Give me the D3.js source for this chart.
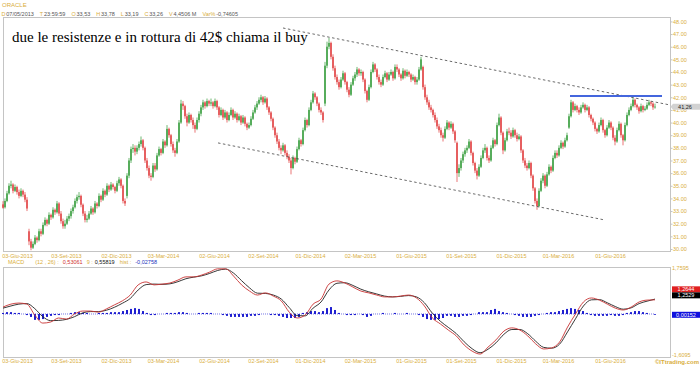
<!DOCTYPE html>
<html><head><meta charset="utf-8">
<script src="https://cdn.jsdelivr.net/npm/d3@7"></script>
<style>body{margin:0;background:#fff}svg{display:block}text{font-family:"Liberation Sans",Arial,sans-serif}</style>
</head><body><svg id="c" width="700" height="365"></svg>
<script>
// ---------- DATA ----------
const symbol = "ORACLE";
const infoFields = [["D","07/05/2013"],["T","23:59:59"],["O","33,53"],["H","33,78"],["L","33,19"],["C","33,26"],["V","4,4506 M"],["Var%","-0,74605"]];
const note = "due le resistenze e in rottura di 42$ chiama il buy";
const xTickLabels = ["03-Giu-2013","03-Set-2013","02-Dic-2013","03-Mar-2014","02-Giu-2014","02-Set-2014","01-Dic-2014","02-Mar-2015","01-Giu-2015","01-Set-2015","01-Dic-2015","01-Mar-2016","01-Giu-2016"];
const xTickIdx = [7,31.5,56.5,80,105.5,130,153.5,178.5,204,229,254,277.5,303.5];
const yTicks = [30,31,32,33,34,35,36,37,38,39,40,41,42,43,44,45,46,47,48];
const lastPrice = 41.26;
// bars: [open, high, low, close]
const ohlc = [
[33.53,33.78,33.19,33.26],[33.3,34.0,33.2,33.8],[33.8,34.6,33.7,34.4],[34.4,35.2,34.3,35.0],[35.0,35.4,34.8,35.1],
[35.1,35.2,34.4,34.6],[34.6,35.1,34.5,34.9],[34.9,35.0,34.3,34.5],[34.5,34.7,34.0,34.2],[34.2,34.8,34.1,34.6],
[34.6,34.7,34.1,34.3],[34.3,34.5,33.7,33.9],[33.9,34.1,33.0,33.2],[31.4,31.6,30.3,30.6],[30.6,30.8,29.9,30.1],
[30.1,30.6,30.0,30.4],[30.4,31.1,30.3,30.9],[30.9,31.0,30.5,30.7],[30.7,31.6,30.6,31.4],[31.4,31.6,31.0,31.2],
[31.2,32.1,31.1,31.9],[31.9,32.5,31.8,32.3],[32.3,32.4,31.8,32.0],[32.0,32.9,31.9,32.7],[32.7,32.8,32.3,32.5],
[32.5,33.3,32.4,33.1],[33.1,33.2,32.7,32.9],[32.9,33.8,32.8,33.6],[33.6,33.7,32.6,32.8],[32.8,33.0,32.0,32.2],
[32.2,32.4,31.6,31.8],[31.8,32.3,31.6,32.0],[32.0,32.6,31.9,32.4],[32.4,32.8,32.2,32.6],[32.6,33.2,32.4,33.0],
[33.0,33.5,32.8,33.3],[33.3,34.0,33.2,33.8],[33.8,34.3,33.6,34.1],[34.1,34.5,33.9,34.2],[34.2,34.3,33.3,33.5],
[33.5,33.6,32.6,32.8],[32.8,33.0,32.1,32.3],[32.3,32.7,32.1,32.4],[32.4,33.0,32.3,32.8],[32.8,33.4,32.7,33.2],
[33.2,33.3,32.7,32.9],[32.9,33.8,32.8,33.6],[33.6,33.7,33.2,33.4],[33.4,34.4,33.3,34.2],[34.2,34.3,33.7,33.9],
[33.9,34.8,33.8,34.6],[34.6,34.7,34.1,34.3],[34.3,35.2,34.2,35.0],[35.0,35.1,34.5,34.7],[34.7,35.3,34.6,35.1],
[35.1,35.2,34.7,34.9],[34.9,35.0,34.4,34.6],[34.6,35.4,34.5,35.2],[35.2,35.7,35.0,35.5],[35.5,35.6,34.8,35.0],
[35.0,35.1,33.6,33.8],[33.8,34.0,33.4,33.6],[34.2,36.0,34.0,35.8],[35.8,37.2,35.6,37.0],[37.0,38.1,36.8,37.9],
[37.9,38.3,37.6,38.0],[38.0,38.2,37.4,37.7],[37.7,38.2,37.5,38.0],[38.0,38.5,37.8,38.3],[38.3,38.9,38.1,38.6],
[38.6,38.7,37.8,38.0],[38.0,38.1,36.8,37.0],[37.0,37.2,36.2,36.4],[36.4,36.6,35.6,35.8],[35.8,36.0,35.4,35.7],
[35.7,36.8,35.6,36.6],[36.6,36.8,36.1,36.3],[36.3,37.6,36.2,37.4],[37.4,38.1,37.3,37.9],[37.9,38.0,37.4,37.6],
[37.6,38.7,37.5,38.5],[38.5,38.6,38.0,38.2],[38.2,39.8,38.1,39.5],[39.5,39.6,38.8,39.0],[39.0,39.1,38.1,38.3],
[38.3,38.5,37.6,37.8],[37.8,38.0,37.3,37.6],[37.6,38.7,37.5,38.5],[38.5,40.2,38.4,40.0],[40.0,41.8,39.9,41.5],
[41.5,41.7,41.0,41.3],[41.3,41.4,40.3,40.5],[40.5,40.7,39.7,40.0],[40.0,40.8,39.9,40.6],[40.6,40.7,40.0,40.2],
[40.2,40.4,39.5,39.8],[39.8,40.0,39.2,39.5],[39.5,40.4,39.4,40.2],[40.2,40.9,40.0,40.7],[40.7,41.4,40.5,41.2],
[41.2,41.8,41.0,41.6],[41.6,41.7,41.1,41.3],[41.3,41.9,41.2,41.7],[41.7,41.8,41.3,41.5],[41.5,41.9,41.3,41.6],
[41.6,41.7,41.1,41.3],[41.3,41.9,41.2,41.7],[41.7,41.8,41.0,41.2],[41.2,41.3,40.4,40.6],[40.6,41.2,40.5,41.0],
[41.0,41.1,40.2,40.4],[40.4,41.0,40.3,40.8],[40.8,40.9,40.0,40.2],[40.2,40.8,40.1,40.6],[40.6,41.2,40.5,41.0],
[41.0,41.1,40.2,40.4],[40.4,40.9,40.3,40.7],[40.7,40.8,40.0,40.2],[40.2,40.7,40.1,40.5],[40.5,40.6,39.8,40.0],
[40.0,40.6,39.9,40.4],[40.4,40.5,39.7,39.9],[39.9,40.0,39.4,39.6],[39.6,40.0,39.5,39.8],[39.8,40.5,39.7,40.3],
[40.3,41.0,40.2,40.8],[40.8,41.4,40.7,41.2],[41.2,41.7,41.0,41.5],[41.5,42.0,41.4,41.8],[41.8,42.2,41.6,42.0],
[42.0,42.1,41.4,41.6],[41.6,42.1,41.5,41.9],[41.9,42.0,41.0,41.2],[41.2,41.3,40.6,40.8],[40.8,40.9,40.1,40.3],
[40.3,40.4,39.4,39.6],[39.6,39.7,38.8,39.0],[39.0,39.2,38.3,38.5],[38.5,38.7,37.8,38.0],[38.0,38.2,37.5,37.8],
[37.8,38.4,37.7,38.2],[38.2,38.3,37.4,37.6],[37.6,37.8,37.1,37.3],[37.3,37.5,36.8,37.0],[37.0,37.2,35.9,36.4],
[36.4,37.4,36.3,37.2],[37.2,37.3,36.7,36.9],[36.9,38.1,36.8,37.9],[37.9,38.8,37.8,38.6],[38.6,38.7,38.1,38.3],
[38.3,39.6,38.2,39.4],[39.4,40.4,39.3,40.2],[40.2,40.3,39.6,39.8],[39.8,41.2,39.7,41.0],[41.0,41.8,40.9,41.6],
[41.6,42.5,41.5,42.3],[42.3,42.4,41.8,42.0],[42.0,42.1,41.3,41.5],[41.5,41.6,40.8,41.0],[41.0,41.2,40.6,40.8],
[40.8,40.9,40.0,40.2],[41.5,44.8,41.3,44.5],[44.5,46.4,44.3,46.0],[46.0,46.7,45.8,46.3],[46.3,46.4,45.0,45.2],
[45.2,45.4,44.1,44.3],[44.3,44.5,43.4,43.6],[43.6,43.8,43.0,43.2],[43.2,43.4,42.6,42.8],[42.8,43.6,42.7,43.4],
[43.4,44.1,43.3,43.9],[43.9,44.0,43.0,43.2],[43.2,43.3,42.4,42.6],[42.6,42.8,42.0,42.2],[42.2,43.2,42.1,43.0],
[43.0,43.7,42.9,43.5],[43.5,44.0,43.3,43.8],[43.8,44.4,43.6,44.2],[44.2,44.3,43.7,43.9],[43.9,44.2,43.7,44.0],
[44.0,44.1,43.2,43.4],[43.4,43.5,42.3,42.5],[42.5,42.6,41.6,41.8],[41.8,43.0,41.7,42.8],[42.8,44.2,42.7,44.0],
[44.0,44.8,43.9,44.6],[44.6,44.7,44.0,44.2],[44.2,44.3,43.4,43.6],[43.6,43.8,43.0,43.2],[43.2,43.4,42.8,43.0],
[43.0,43.8,42.9,43.6],[43.6,44.1,43.5,43.9],[43.9,44.0,43.2,43.4],[43.4,44.0,43.3,43.8],[43.8,44.2,43.7,44.0],
[44.0,44.1,43.3,43.5],[43.5,44.6,43.4,44.4],[44.4,44.6,44.0,44.2],[44.2,44.3,43.6,43.8],[43.8,43.9,43.3,43.5],
[43.5,44.3,43.4,44.1],[44.1,44.2,43.5,43.7],[43.7,44.2,43.6,44.0],[44.0,44.1,43.6,43.8],[43.8,43.9,43.2,43.4],
[43.4,43.8,43.3,43.6],[43.6,43.7,43.0,43.2],[43.2,43.6,43.0,43.4],[43.4,44.4,43.3,44.2],[44.2,45.2,44.1,45.0],
[44.4,44.5,42.6,42.8],[42.8,43.0,41.8,42.0],[42.0,42.2,41.4,41.6],[41.6,41.8,41.0,41.2],[41.2,41.4,40.8,41.0],
[41.0,41.1,40.4,40.6],[40.6,40.8,40.0,40.2],[40.2,40.4,39.5,39.7],[39.7,39.9,39.2,39.4],[39.4,39.6,38.8,39.0],
[39.0,39.2,38.5,38.8],[38.8,39.7,38.7,39.5],[39.5,40.2,39.4,40.0],[40.0,40.1,39.4,39.6],[39.6,40.1,39.5,39.9],
[39.9,40.0,39.1,39.3],[39.3,39.4,38.4,38.6],[38.4,38.5,35.3,36.0],[36.0,36.7,35.7,36.4],[36.4,37.2,36.2,37.0],
[37.0,37.7,36.8,37.5],[37.5,38.0,37.3,37.8],[37.8,38.2,37.6,38.0],[38.0,38.7,37.9,38.5],[38.5,38.6,37.4,37.6],
[37.6,37.7,36.6,36.8],[36.8,36.9,36.0,36.2],[36.2,36.4,35.5,35.8],[35.8,36.7,35.7,36.5],[36.5,37.4,36.4,37.2],
[37.2,38.0,37.1,37.8],[37.8,38.3,37.6,38.0],[38.0,38.1,37.0,37.2],[37.2,37.4,36.8,37.0],[37.0,38.2,36.9,38.0],
[38.0,38.8,37.9,38.6],[38.6,38.7,38.1,38.3],[38.3,40.0,38.2,39.8],[39.8,40.7,39.7,40.4],[40.4,40.5,39.0,39.2],
[39.2,39.3,37.5,37.8],[37.8,38.8,37.7,38.6],[38.6,39.5,38.5,39.3],[39.3,39.6,39.0,39.2],[39.2,39.4,38.7,38.9],
[38.9,39.6,38.8,39.4],[39.4,39.5,38.8,39.0],[39.0,39.2,38.5,38.7],[38.7,39.1,38.6,38.9],[38.9,39.0,37.6,37.8],
[37.8,37.9,36.8,37.0],[37.0,37.2,36.4,36.6],[36.6,36.8,36.2,36.4],[36.4,37.0,36.3,36.8],[36.8,36.9,35.6,35.8],
[35.8,35.9,34.6,34.8],[34.8,34.9,33.6,33.8],[33.8,34.0,33.1,33.4],[33.4,34.8,33.3,34.6],[34.6,35.6,34.5,35.4],
[35.4,36.0,35.2,35.8],[35.8,35.9,34.8,35.0],[35.0,36.1,34.9,35.9],[35.9,36.7,35.8,36.5],[36.5,36.6,36.0,36.2],
[36.2,37.4,36.1,37.2],[37.2,37.8,37.1,37.6],[37.6,37.8,37.2,37.4],[37.4,38.2,37.3,38.0],[38.0,38.6,37.9,38.4],
[38.4,38.5,37.9,38.1],[38.1,38.8,38.0,38.6],[38.6,39.2,38.5,39.0],[39.6,40.7,39.5,40.5],[40.5,41.8,40.4,41.6],
[41.6,41.7,40.8,41.0],[41.0,41.5,40.9,41.3],[41.3,41.4,40.8,41.0],[41.0,41.2,40.6,40.8],[40.8,41.4,40.7,41.2],
[41.2,41.6,41.1,41.4],[41.4,41.5,40.8,41.0],[41.0,41.4,40.9,41.2],[41.2,41.3,40.4,40.6],[40.6,40.7,40.1,40.3],
[40.3,40.4,39.8,40.0],[40.0,40.1,39.3,39.5],[39.5,39.6,39.1,39.3],[39.3,40.0,39.2,39.8],[39.8,40.4,39.7,40.2],
[40.2,40.3,39.2,39.4],[39.4,39.5,38.8,39.0],[39.0,39.8,38.9,39.6],[39.6,40.2,39.5,40.0],[40.0,40.1,39.4,39.6],
[39.6,39.7,38.6,38.8],[38.8,39.0,38.2,38.5],[38.5,39.6,38.4,39.4],[39.4,40.1,39.3,39.9],[39.9,40.0,38.8,39.0],
[39.0,39.1,38.2,38.6],[38.6,40.0,38.5,39.8],[39.8,40.8,39.7,40.6],[40.6,41.2,40.5,41.0],[41.0,41.5,40.9,41.3],
[41.3,42.0,41.2,41.8],[41.8,41.9,41.2,41.4],[41.4,41.5,41.0,41.2],[41.2,41.3,40.7,40.9],[40.9,41.5,40.8,41.3],
[41.3,41.4,40.8,41.0],[41.0,41.3,40.9,41.1],[41.1,41.6,41.0,41.4],[41.4,41.8,41.3,41.6],[41.6,41.7,41.3,41.5],
[41.5,41.6,41.0,41.2],[41.2,41.5,41.1,41.26]
];
// trend lines drawn on the chart: [barIndex, price]
const upperTrend = [[140,47.48],[333.5,41.39]];
const lowerTrend = [[107.5,38.39],[301,32.29]];
const resistance = [[283.5,42.1],[329.5,42.1]];
// MACD panel
const macdParams = "(12 , 26) :";
const macdInfo = {macd:"0,53061", sigLabel:"9 :", signal:"0,55819", hist:"-0,02758"};
const macdAxis = {top:"1,7595", bottom:"-1,6095"};
const macdBoxes = {macd:"1,2644", signal:"1,2529", hist:"0,00152"};
const macdLine = [0.26,0.37,0.41,0.37,-0.04,-0.34,-0.30,-0.15,-0.19,0.00,
0.11,0.11,0.07,0.19,0.34,0.49,0.71,1.09,1.20,1.09,
1.12,1.16,1.27,1.39,1.39,1.46,1.57,1.69,1.69,1.42,
1.09,0.86,0.71,0.79,0.67,0.49,0.07,-0.15,-0.04,0.37,
0.56,1.12,1.24,1.16,1.01,0.86,0.79,0.71,0.64,0.64,
0.67,0.71,0.60,0.30,-0.15,-0.37,-0.60,-0.82,-1.16,-1.39,
-1.50,-1.24,-0.97,-0.64,-0.52,-0.60,-0.82,-1.12,-1.31,-1.27,
-1.05,-0.49,0.00,0.45,0.60,0.52,0.37,0.22,0.15,0.26,
0.45,0.52,0.53];
const signalLine = [0.22,0.30,0.37,0.39,0.20,-0.10,-0.25,-0.24,-0.20,-0.10,
0.04,0.09,0.09,0.14,0.25,0.40,0.58,0.90,1.10,1.12,
1.11,1.13,1.21,1.32,1.38,1.43,1.52,1.63,1.68,1.53,
1.25,0.98,0.78,0.77,0.71,0.56,0.24,-0.06,-0.07,0.22,
0.45,0.90,1.15,1.17,1.07,0.93,0.83,0.75,0.67,0.64,
0.66,0.69,0.64,0.42,0.03,-0.27,-0.50,-0.73,-1.04,-1.30,
-1.45,-1.32,-1.08,-0.76,-0.58,-0.58,-0.74,-1.02,-1.25,-1.28,
-1.13,-0.67,-0.18,0.30,0.53,0.54,0.42,0.28,0.18,0.23,
0.39,0.48,0.558];
const histValues = [0.04,0.07,0.07,0.04,0.04,0,-0.04,-0.11,-0.22,-0.22,
-0.19,-0.11,-0.07,-0.04,-0.04,0,0,0.04,0.07,0.07,
0.04,0.04,0,0,0.04,0.04,0.04,0.07,0.07,0.07,
0.11,0.15,0.19,0.22,0.19,0.11,0.04,-0.04,-0.04,0,
0,0.04,0.04,0.04,0.07,0.07,0.04,0,0,0.04,
0.04,0.04,0.04,0,0,-0.04,-0.07,-0.11,-0.11,-0.11,
-0.11,-0.11,-0.07,-0.07,-0.04,0,0,-0.04,-0.04,-0.07,
-0.11,-0.15,-0.15,-0.15,-0.11,0.04,0.07,0.11,0.11,0.07,
0.11,0.22,0.26,0.15,0.04,0,-0.04,-0.04,-0.04,0,
-0.04,-0.11,-0.07,0,0,0.04,0,0,0.04,0,
0,0.04,0,0,-0.04,-0.11,-0.19,-0.22,-0.22,-0.19,
-0.15,-0.07,-0.07,-0.11,-0.11,-0.07,-0.07,-0.04,0,0.07,
0.07,0.07,0.15,0.19,0.11,0.07,0.04,0,-0.04,-0.07,
-0.11,-0.11,-0.11,-0.07,-0.04,0,0.04,0.07,0.07,0.11,
0.15,0.19,0.22,0.19,0.15,0.11,0.04,-0.04,-0.07,-0.07,
-0.07,-0.07,-0.04,-0.07,-0.07,-0.04,0.04,0.07,0.11,0.11,
0.07,0.04,0,-0.03];
const credit = "\u00A9ITtrading.com";

// ---------- STYLE ----------
const gold = "#d9ae3c", frame = "#c4c4c4", upC = "#2f9a35", dnC = "#e0393b";
const fs = 5.5;

// ---------- DRAW ----------
const svg = d3.select("#c");
const N = ohlc.length;
const main = {l:3, r:670, t:17, b:251};
const mac = {l:3, r:670, t:267, b:357};
const x = d3.scaleLinear().domain([0, N-1]).range([3, 655]);
const y = d3.scaleLinear().domain([29.84, 48.35]).range([main.b, main.t]);
const yM = d3.scaleLinear().domain([-1.61, 1.7595]).range([mac.b, mac.t]);

// header
svg.append("text").attr("x",2).attr("y",5).attr("dy","0.35em").attr("font-size",6).attr("fill",gold).text(symbol);
const info = svg.append("text").attr("x",1.5).attr("y",14).attr("dy","0.35em").attr("font-size",fs);
infoFields.forEach((f,i)=>{
  info.append("tspan").attr("dx", i? 6:0).attr("fill",gold).text(f[0]);
  info.append("tspan").attr("dx",0.8).attr("fill","#555").text(f[1]);
});

// frames
svg.append("rect").attr("x",main.l+0.5).attr("y",main.t+0.5).attr("width",main.r-main.l).attr("height",main.b-main.t).attr("fill","none").attr("stroke",frame);
svg.append("rect").attr("x",mac.l+0.5).attr("y",mac.t+0.5).attr("width",mac.r-mac.l).attr("height",mac.b-mac.t).attr("fill","none").attr("stroke",frame);

// y axis
const ya = svg.append("g").attr("transform",`translate(${main.r+0.5},0)`)
  .call(d3.axisRight(y).tickValues(yTicks).tickSize(2).tickFormat(d3.format(".2f")));
ya.select(".domain").remove();
ya.selectAll("line").attr("stroke",frame);
ya.selectAll("text").attr("font-size",fs).attr("fill",gold).attr("x",2.5).style("font-family","Liberation Sans");

// x axes
function xAxis(yPos){
  const a = svg.append("g").attr("transform",`translate(0,${yPos})`)
    .call(d3.axisBottom(x).tickValues(xTickIdx).tickSize(0).tickFormat((d,i)=>xTickLabels[i]));
  a.select(".domain").remove();
  a.selectAll("text").attr("font-size",fs).attr("fill",gold).attr("dy","0.35em").attr("y",0).style("font-family","Liberation Sans");
}
xAxis(256); xAxis(361);

// candles
const cg = svg.append("g");
cg.selectAll("line").data(ohlc).join("line")
  .attr("x1",(d,i)=>x(i)).attr("x2",(d,i)=>x(i))
  .attr("y1",d=>y(d[1])).attr("y2",d=>y(d[2]))
  .attr("stroke",d=>d[3]>=d[0]?upC:dnC).attr("stroke-width",0.7);
cg.selectAll("rect").data(ohlc).join("rect")
  .attr("x",(d,i)=>x(i)-0.7).attr("width",1.4)
  .attr("y",d=>y(Math.max(d[0],d[3])))
  .attr("height",d=>Math.max(0.6, Math.abs(y(d[0])-y(d[3]))))
  .attr("fill",d=>d[3]>=d[0]?upC:dnC);

// trend lines
const tl = d3.line().x(d=>x(d[0])).y(d=>y(d[1]));
[upperTrend, lowerTrend].forEach(t=>svg.append("path").attr("d",tl(t)).attr("fill","none").attr("stroke","#444").attr("stroke-width",0.8).attr("stroke-dasharray","2.5,2.5"));
svg.append("path").attr("d",tl(resistance)).attr("fill","none").attr("stroke","#4466dd").attr("stroke-width",2);

// note
svg.append("text").attr("x",12).attr("y",42).attr("font-size",15).style("font-family","'Liberation Serif','Times New Roman',serif").attr("fill","#000").text(note);

// last price box
const ly = y(lastPrice);
svg.append("path").attr("d",`M${main.r+0.5},${ly} L${main.r+3},${ly-3} H700 V${ly+3} H${main.r+3} Z`).attr("fill","#d2d2d2");
svg.append("text").attr("x",685).attr("y",ly).attr("dy","0.35em").attr("text-anchor","middle").attr("font-size",fs).attr("fill","#222").text(d3.format(".2f")(lastPrice).replace(".",","));

// MACD header
const mh = svg.append("text").attr("x",8).attr("y",262.5).attr("dy","0.35em").attr("font-size",fs);
mh.append("tspan").attr("fill",gold).text("MACD");
mh.append("tspan").attr("dx",11).attr("fill",gold).text(macdParams);
mh.append("tspan").attr("dx",4).attr("fill","#d03030").text(macdInfo.macd);
mh.append("tspan").attr("dx",4).attr("fill",gold).text(macdInfo.sigLabel);
mh.append("tspan").attr("dx",2).attr("fill","#111").text(macdInfo.signal);
mh.append("tspan").attr("dx",5).attr("fill",gold).text("hist :");
mh.append("tspan").attr("dx",4).attr("fill","#2233bb").text(macdInfo.hist);

// MACD axis labels
svg.append("text").attr("x",672).attr("y",yM.range()[1]+1).attr("dy","0.35em").attr("font-size",fs).attr("fill",gold).text(macdAxis.top);
svg.append("text").attr("x",672).attr("y",yM.range()[0]-1.5).attr("dy","0.35em").attr("font-size",fs).attr("fill",gold).text(macdAxis.bottom);

// histogram
const xH = d3.scaleLinear().domain([0, histValues.length-1]).range(x.range());
const z0 = yM(0);
svg.append("line").attr("x1",x.range()[0]).attr("x2",x.range()[1]).attr("y1",z0).attr("y2",z0).attr("stroke","#2a2ad8").attr("stroke-width",0.8).attr("stroke-dasharray","0.8,1.2");
svg.append("g").selectAll("rect").data(histValues).join("rect")
  .attr("x",(d,i)=>xH(i)-1).attr("width",2)
  .attr("y",d=>Math.min(yM(d),z0)).attr("height",d=>Math.abs(yM(d)-z0))
  .attr("fill","#1f1fd0");

// MACD lines
const xL = d3.scaleLinear().domain([0, macdLine.length-1]).range(x.range());
const ml = d3.line().x((d,i)=>xL(i)).y(d=>yM(d)).curve(d3.curveMonotoneX);
svg.append("path").attr("d",ml(signalLine)).attr("fill","none").attr("stroke","#222").attr("stroke-width",0.9);
svg.append("path").attr("d",ml(macdLine)).attr("fill","none").attr("stroke","#c83232").attr("stroke-width",0.9);

// MACD value boxes
const lastM = yM(macdLine[macdLine.length-1]);
function box(yc, fill, txt){
  svg.append("rect").attr("x",672).attr("y",yc-3).attr("width",28).attr("height",6).attr("fill",fill);
  svg.append("text").attr("x",686).attr("y",yc).attr("dy","0.35em").attr("text-anchor","middle").attr("font-size",fs).attr("fill","#fff").text(txt);
}
box(lastM-10.5, "#e02020", macdBoxes.macd);
box(lastM-4.5, "#000", macdBoxes.signal);
box(yM(histValues[histValues.length-1]), "#1010dd", macdBoxes.hist);

// credit
svg.append("text").attr("x",699).attr("y",361.5).attr("dy","0.35em").attr("text-anchor","end").attr("font-size",6).attr("font-weight","bold").attr("fill",gold).text(credit);
</script></body></html>
